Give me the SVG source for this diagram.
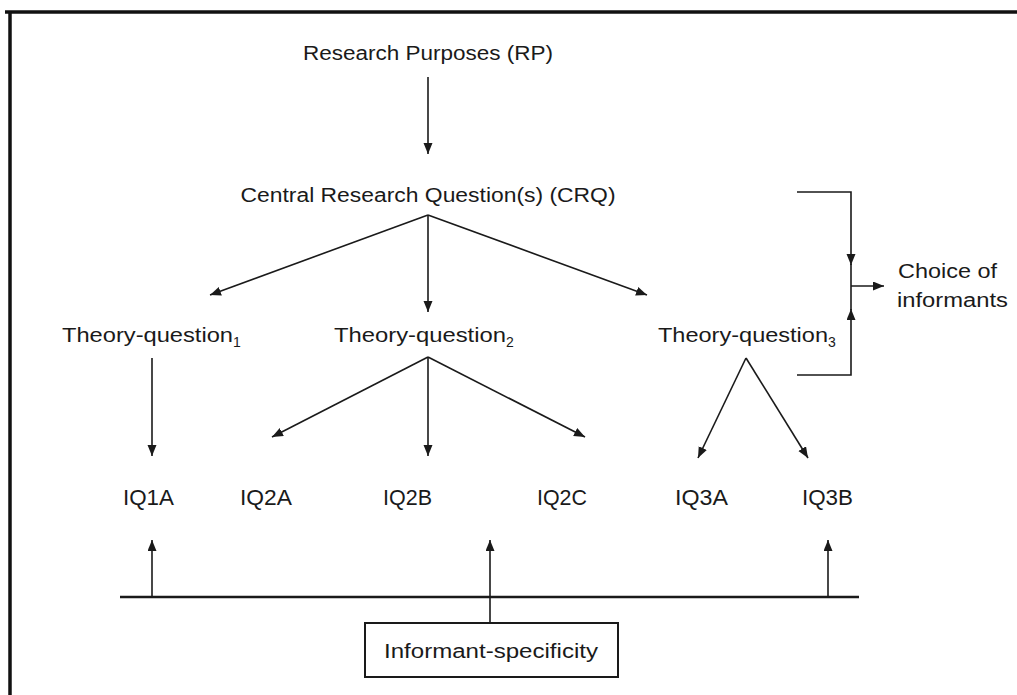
<svg xmlns="http://www.w3.org/2000/svg" width="1017" height="695" viewBox="0 0 1017 695">
<style>
text{font-family:"Liberation Sans",Arial,sans-serif;fill:#1a1a1a}
.t{font-size:20px}
.iq{font-size:22px}
.sub{font-size:14px}
.ln{stroke:#1a1a1a;stroke-width:1.6;fill:none}
.ar{stroke:#1a1a1a;stroke-width:1.6;fill:none;marker-end:url(#ah)}
</style>
<defs>
<marker id="ah" markerUnits="userSpaceOnUse" markerWidth="12" markerHeight="10" refX="11" refY="4.5" orient="auto">
<path d="M0,0 L11,4.5 L0,9 Z" fill="#1a1a1a"/>
</marker>
</defs>
<rect x="0" y="0" width="1017" height="695" fill="#fff"/>
<g id="frame">
<line x1="5" y1="12" x2="1017" y2="12" stroke="#111" stroke-width="3.5"/>
<line x1="10" y1="11" x2="10" y2="695" stroke="#111" stroke-width="3.5"/>
</g>
<g id="connectors">
<line class="ar" x1="428" y1="77" x2="428" y2="154"/>
<line class="ar" x1="428" y1="215" x2="210" y2="295"/>
<line class="ar" x1="428" y1="215" x2="428" y2="312"/>
<line class="ar" x1="428" y1="215" x2="647" y2="295"/>
<line class="ar" x1="152" y1="358" x2="152" y2="456"/>
<line class="ar" x1="428" y1="357" x2="272" y2="437"/>
<line class="ar" x1="428" y1="357" x2="428" y2="456"/>
<line class="ar" x1="428" y1="357" x2="585" y2="437"/>
<line class="ar" x1="746" y1="358" x2="698" y2="458"/>
<line class="ar" x1="746" y1="358" x2="808" y2="458"/>
<path class="ar" d="M797,192 H851 V265"/>
<path class="ar" d="M797,375 H851 V309"/>
<line class="ln" x1="851" y1="264" x2="851" y2="310"/>
<line class="ar" x1="851" y1="286" x2="884" y2="286"/>
<line x1="120" y1="597" x2="859" y2="597" stroke="#1a1a1a" stroke-width="2.6"/>
<line class="ar" x1="152" y1="597" x2="152" y2="540"/>
<line class="ar" x1="490" y1="623" x2="490" y2="540"/>
<line class="ar" x1="828" y1="597" x2="828" y2="540"/>
</g>
<g id="rp"><text class="t" x="428" y="60" text-anchor="middle" textLength="250" lengthAdjust="spacingAndGlyphs">Research Purposes (RP)</text></g>
<g id="crq"><text class="t" x="428" y="202" text-anchor="middle" textLength="375" lengthAdjust="spacingAndGlyphs">Central Research Question(s) (CRQ)</text></g>
<g id="tq1"><text class="t" x="62" y="342"><tspan textLength="171" lengthAdjust="spacingAndGlyphs">Theory-question</tspan><tspan class="sub" dy="5">1</tspan></text></g>
<g id="tq2"><text class="t" x="334" y="342"><tspan textLength="172" lengthAdjust="spacingAndGlyphs">Theory-question</tspan><tspan class="sub" dy="5">2</tspan></text></g>
<g id="tq3"><text class="t" x="658" y="342"><tspan textLength="170" lengthAdjust="spacingAndGlyphs">Theory-question</tspan><tspan class="sub" dy="5">3</tspan></text></g>
<g id="choice"><text class="t" x="898" y="278" textLength="99" lengthAdjust="spacingAndGlyphs">Choice of</text><text class="t" x="897" y="307" textLength="111" lengthAdjust="spacingAndGlyphs">informants</text></g>
<g id="iq1a"><text class="iq" x="123" y="505" textLength="51" lengthAdjust="spacingAndGlyphs">IQ1A</text></g>
<g id="iq2a"><text class="iq" x="240" y="505" textLength="52" lengthAdjust="spacingAndGlyphs">IQ2A</text></g>
<g id="iq2b"><text class="iq" x="383" y="505" textLength="49" lengthAdjust="spacingAndGlyphs">IQ2B</text></g>
<g id="iq2c"><text class="iq" x="537" y="505" textLength="50" lengthAdjust="spacingAndGlyphs">IQ2C</text></g>
<g id="iq3a"><text class="iq" x="675" y="505" textLength="53" lengthAdjust="spacingAndGlyphs">IQ3A</text></g>
<g id="iq3b"><text class="iq" x="802" y="505" textLength="51" lengthAdjust="spacingAndGlyphs">IQ3B</text></g>
<g id="informant">
<rect x="365" y="623" width="253" height="54" fill="#fff" stroke="#1a1a1a" stroke-width="2"/>
<text class="t" x="491" y="658" text-anchor="middle" textLength="214" lengthAdjust="spacingAndGlyphs">Informant-specificity</text>
</g>
</svg>
